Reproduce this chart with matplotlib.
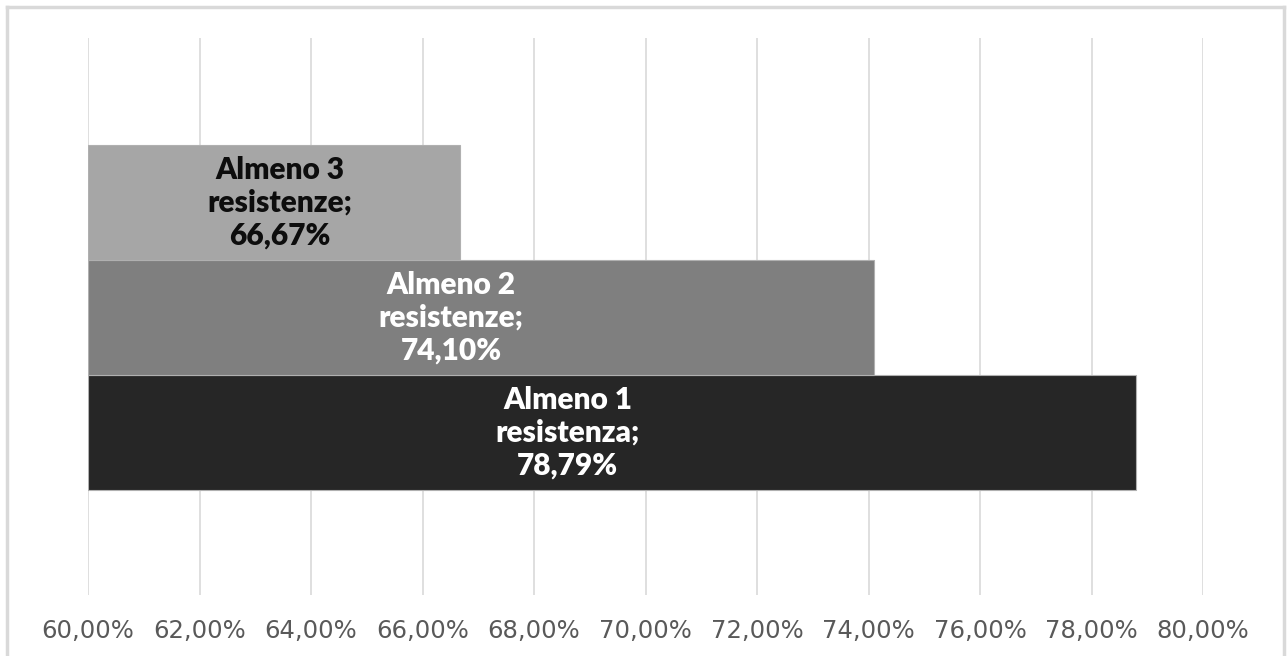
import matplotlib.pyplot as plt
from matplotlib.lines import Line2D
from matplotlib.ticker import FuncFormatter

# resistance data
labels = ["Almeno 1\nresistenza;", "Almeno 2\nresistenze;", "Almeno 3\nresistenze;"]
values = [78.79, 74.10, 66.67]
colors = ["#262626", "#7f7f7f", "#a6a6a6"]
text_colors = ["white", "white", "#0d0d0d"]
label_shift = [-44, -30, 6]  # px offset of the label from the bar centre

ticks = list(range(60, 81, 2))


def pct(v, pos=None):
    return f"{v:.2f}%".replace(".", ",")


def main():
    fig = plt.figure(figsize=(12.87, 6.56), dpi=100)
    W, H = 1287, 656
    ax = fig.add_axes([88 / W, (656 - 595) / H, (1203 - 88) / W, (595 - 38) / H])

    ypos = list(range(len(values)))
    ax.barh(ypos, [v - 60 for v in values], left=60, height=1.0,
            color=colors, edgecolor="#b0b0b0", linewidth=0.8, zorder=2)

    for y, v, lab, tc, dx in zip(ypos, values, labels, text_colors, label_shift):
        ax.annotate(f"{lab}\n{pct(v)}", xy=((60 + v) / 2, y), xytext=(dx * 0.72, 0),
                    textcoords="offset points", ha="center", va="center",
                    multialignment="center", color=tc, fontsize=21.5,
                    fontweight="heavy", family="Lato", linespacing=1.2, zorder=3)

    # bars take 115px each inside the 557px plot height
    ax.set_xlim(60, 80)
    ax.set_ylim(-0.5 - 105 / 115, 2.5 + 107 / 115)
    ax.set_xticks(ticks)
    ax.xaxis.set_major_formatter(FuncFormatter(pct))
    ax.set_yticks([])
    ax.grid(axis="x", color="#d9d9d9", linewidth=1.2, zorder=0)
    ax.tick_params(axis="x", length=0, pad=17, labelsize=17.5, labelcolor="#595959")
    for s in ax.spines.values():
        s.set_visible(False)

    # chart frame
    for xs, ys in [((7, 7), (0, 649)), ((7, 1284), (649, 649)), ((1284, 1284), (649, 0))]:
        fig.add_artist(Line2D([x / W for x in xs], [y / H for y in ys],
                              color="#d9d9d9", linewidth=2.5, transform=fig.transFigure))

    fig.savefig("out.png", dpi=100)


if __name__ == "__main__":
    main()
